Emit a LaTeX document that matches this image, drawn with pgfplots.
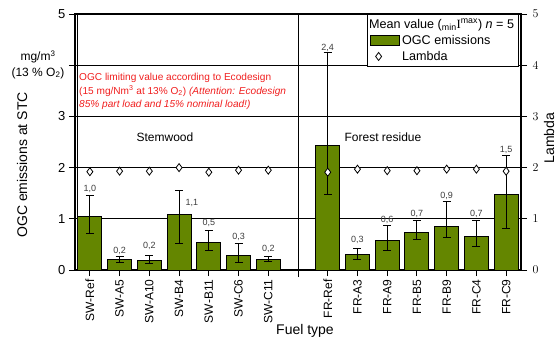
\documentclass[border=0pt]{standalone}
\usepackage{pgfplots}
\pgfplotsset{compat=1.18}
\usepackage{pgfplotstable}
\usepackage{fontspec}
\setmainfont{Liberation Sans}
\newfontfamily\serifI{Liberation Serif}
\definecolor{barg}{RGB}{100,134,0}
\definecolor{redtxt}{RGB}{240,30,30}
\definecolor{lbl}{RGB}{60,60,60}

\pgfplotstableread{
x   y     ep    em
0   1.04  0.41  0.32
1   0.20  0.06  0.06
2   0.18  0.10  0.06
3   1.09  0.46  0.58
4   0.53  0.25  0.15
5   0.28  0.23  0.13
6   0.20  0.07  0.04
8   2.43  1.81  0.95
9   0.31  0.11  0.10
10  0.58  0.29  0.20
11  0.74  0.23  0.14
12  0.85  0.49  0.22
13  0.66  0.31  0.20
14  1.48  0.76  0.67
}\ogc

\pgfplotstableread{
x   lam
0   1.92
1   1.93
2   1.93
3   2.00
4   1.91
5   1.95
6   1.95
8   1.91
9   1.97
10  1.94
11  1.94
12  1.97
13  1.97
14  1.93
}\lam

\begin{document}
\begin{tikzpicture}
\path[use as bounding box] (-75pt,-73pt) rectangle (485pt,270pt);
\begin{axis}[
  name=main,
  scale only axis, width=446pt, height=256pt,
  xmin=-0.5, xmax=14.5, ymin=0, ymax=5,
  clip=false,
  axis line style={line width=1.1pt},
  xtick={0,1,2,3,4,5,6,8,9,10,11,12,13,14},
  xticklabels={SW-Ref,SW-A5,SW-A10,SW-B4,SW-B11,SW-C6,SW-C11,FR-Ref,FR-A3,FR-A9,FR-B5,FR-B9,FR-C4,FR-C9},
  x tick label style={rotate=90, anchor=east, font=\fontsize{12}{12}\selectfont},
  ytick={0,1,2,3,4,5}, yticklabels={0,1,2,3,,5},
  y tick label style={font=\fontsize{13}{13}\selectfont},
  /pgf/number format/assume math mode=true,
  tick align=outside, xtick pos=bottom, ytick pos=left,
  major tick length=6pt,
  tick style={black, line width=0.9pt},
  ymajorgrids, grid style={black, line width=0.8pt},
  legend style={at={(1,1)}, anchor=north east, xshift=-2pt, draw=black, line width=0.8pt,
    fill=white, font=\fontsize{12.6}{13}\selectfont, inner sep=2.5pt, row sep=1.5pt,
    legend cell align=left},
]
\addlegendimage{empty legend}
\addlegendentry{\hspace*{-33pt}Mean value (\textsubscript{min}{\serifI I}\textsuperscript{max}) \textit{n} = 5}
\addplot[ybar, bar width=24pt, fill=barg, draw=black, line width=1pt,
  legend image code/.code={\draw[fill=barg, draw=black, line width=1pt] (0pt,-5pt) rectangle (29pt,5pt);},
  error bars/.cd, y dir=both, y explicit,
  error bar style={line width=1pt, black},
  error mark options={rotate=90, mark size=4pt, line width=1pt, black},
  ] table[x=x, y=y, y error plus=ep, y error minus=em] {\ogc};
\addlegendentry{OGC emissions}
\addlegendimage{legend image code/.code={\draw[fill=white, draw=black, line width=0.8pt] (8pt,0pt) +(0,4pt) -- +(3pt,0) -- +(0,-4pt) -- +(-3pt,0) -- cycle;}}
\addlegendentry{Lambda}

\draw[black, line width=0.9pt] (axis cs:7,-0.14) -- (axis cs:7,5);

\begin{scope}[every node/.style={font=\fontsize{9}{9}\selectfont, text=lbl}]
\node at (axis cs:0,1.58) {1,0};
\node at (axis cs:1,0.37) {0,2};
\node at (axis cs:2,0.47) {0,2};
\node at (axis cs:3.43,1.30) {1,1};
\node at (axis cs:4,0.92) {0,5};
\node at (axis cs:5,0.65) {0,3};
\node at (axis cs:6,0.42) {0,2};
\node at (axis cs:8,4.34) {2,4};
\node at (axis cs:9,0.59) {0,3};
\node at (axis cs:10,0.98) {0,6};
\node at (axis cs:11,1.09) {0,7};
\node at (axis cs:12,1.45) {0,9};
\node at (axis cs:13,1.09) {0,7};
\node at (axis cs:14,2.34) {1,5};
\end{scope}
\end{axis}

\begin{axis}[
  scale only axis, width=446pt, height=256pt,
  xmin=-0.5, xmax=14.5, ymin=0, ymax=5,
  clip=false,
  axis x line=none, axis y line*=right,
  axis line style={line width=1.1pt},
  ytick={0,1,2,3,4,5},
  y tick label style={font=\fontsize{13}{13}\selectfont, xshift=2pt},
  tick align=outside, major tick length=6pt,
  tick style={black, line width=0.9pt},
]
\addplot[only marks, mark=diamond*, mark size=4pt, mark options={fill=white, draw=black, line width=0.8pt}]
  table[x=x, y=lam] {\lam};
\end{axis}

\draw[line width=0.5pt] (2.5pt,0pt) -- (2.5pt,256pt);

\node[rotate=90, font=\fontsize{14}{14}\selectfont] at (-53pt,105pt) {OGC emissions at STC};
\node[rotate=90, font=\fontsize{14}{14}\selectfont] at (474pt,132pt) {Lambda};
\node[font=\fontsize{12}{12}\selectfont] at (-37pt,213pt) {mg/m\textsuperscript{3}};
\node[font=\fontsize{12}{12}\selectfont] at (-37pt,197pt) {(13 \% O\textsubscript{2})};
\node[font=\fontsize{14}{14}\selectfont] at (230pt,-61pt) {Fuel type};
\node[font=\fontsize{12}{12}\selectfont] at (90pt,133pt) {Stemwood};
\node[font=\fontsize{12}{12}\selectfont] at (308pt,133pt) {Forest residue};
\begin{scope}[every node/.style={font=\fontsize{10.1}{10.1}\selectfont, text=redtxt, anchor=west, inner sep=0pt}]
\node at (4pt,192pt) {OGC limiting value according to Ecodesign};
\node at (4pt,179pt) {(15 mg/Nm\textsuperscript{3} at 13\% O\textsubscript{2}) \textit{(Attention: Ecodesign}};
\node at (4pt,165pt) {\textit{85\% part load and 15\% nominal load!)}};
\end{scope}
\end{tikzpicture}
\end{document}
